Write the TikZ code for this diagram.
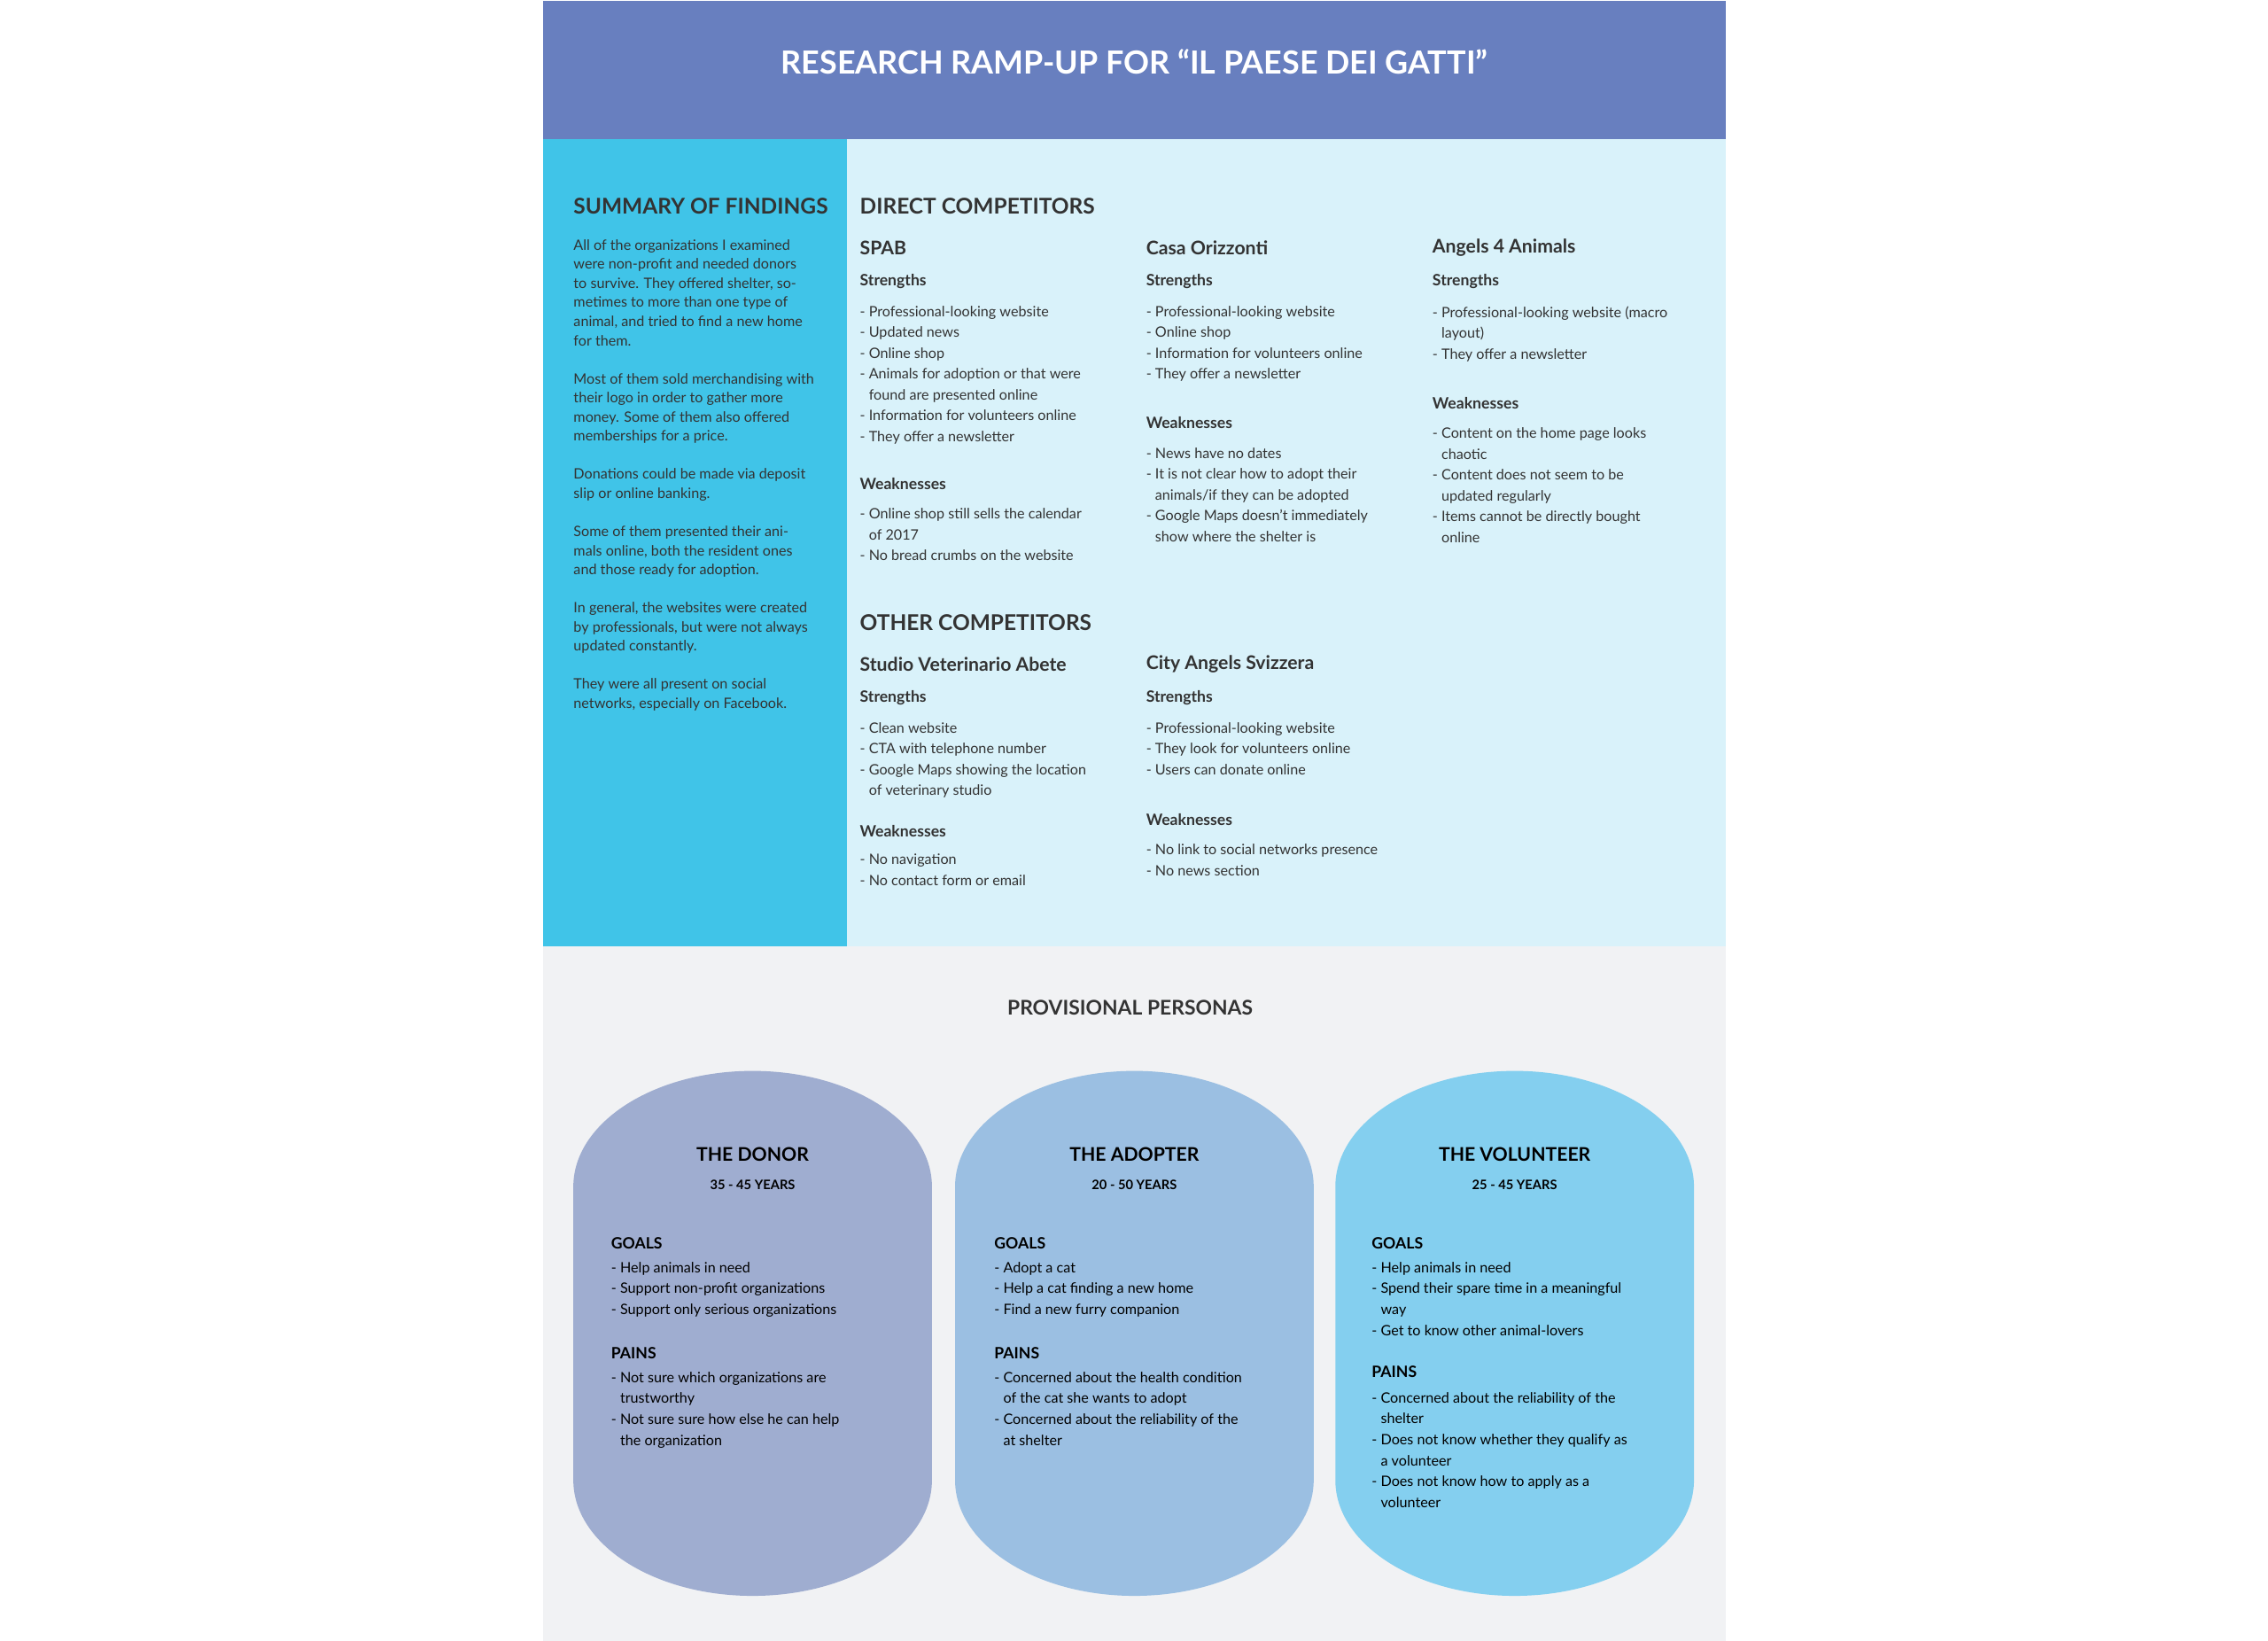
\documentclass[tikz,border=0pt]{standalone}
\usepackage{fontspec}
\setmainfont{Lato}
\definecolor{hdr}{RGB}{104,127,191}
\definecolor{sky}{RGB}{64,196,232}
\definecolor{pale}{RGB}{217,242,250}
\definecolor{grey}{RGB}{241,242,244}
\definecolor{donor}{RGB}{159,173,208}
\definecolor{adopt}{RGB}{155,191,226}
\definecolor{volun}{RGB}{132,207,239}
\definecolor{ink}{RGB}{51,51,51}
\newcommand{\ind}{\phantom{- }}
\begin{document}
\begin{tikzpicture}[x=1pt,y=-1pt]

  \node[anchor=center,inner sep=0] (X) at (0,0) {};

  % node styles
  \tikzstyle{Big}=[anchor=west,inner sep=0,text=ink,font=\fontsize{15}{17}\selectfont\bfseries]
  \tikzstyle{Name}=[anchor=west,inner sep=0,text=ink,font=\fontsize{13}{15}\selectfont\bfseries]
  \tikzstyle{Sub}=[anchor=west,inner sep=0,text=ink,font=\fontsize{10.8}{12}\selectfont\bfseries]
  \tikzstyle{List}=[anchor=north west,inner sep=0,text=ink,align=left,
  font=\fontsize{9.9}{14.4}\selectfont]
  \tikzstyle{Para}=[anchor=north west,inner sep=0,text=ink,align=left,
  font=\fontsize{9.9}{13.2}\selectfont]
  \tikzstyle{Persona}=[anchor=center,inner sep=0,text=black,font=\fontsize{13}{15}\selectfont\bfseries]
  \tikzstyle{Age}=[anchor=center,inner sep=0,text=black,font=\fontsize{9}{10}\selectfont\bfseries]
  \tikzstyle{Tag}=[anchor=west,inner sep=0,text=black,font=\fontsize{10.8}{12}\selectfont\bfseries]
  \tikzstyle{PList}=[anchor=north west,inner sep=0,text=black,align=left,
  font=\fontsize{9.9}{14.5}\selectfont]

  % panels
  \useasboundingbox (0,0) rectangle (1568,1134);
  \fill[white] (0,0) rectangle (1568,1134);
  \fill[hdr]  (375,0)   rectangle (1193,96);
  \fill[sky]  (375,96)  rectangle (585,654);
  \fill[pale] (585,96)  rectangle (1193,654);
  \fill[grey] (375,654) rectangle (1193,1134);

  \node[anchor=center,text=white,font=\fontsize{22}{24}\selectfont\bfseries] (T) at (784,42)
    {RESEARCH RAMP-UP FOR “IL PAESE DEI GATTI”};

  % summary
  \node[Big] (S) at (396,142) {SUMMARY OF FINDINGS};
  \node[Para] (S1) at (396,165) {All of the organizations I examined\\were non-profit and needed donors\\to survive. They offered shelter, so-\\metimes to more than one type of\\animal, and tried to find a new home\\for them.\\[13.2pt]
  Most of them sold merchandising with\\their logo in order to gather more\\money. Some of them also offered\\memberships for a price.\\[13.2pt]
  Donations could be made via deposit\\slip or online banking.\\[13.2pt]
  Some of them presented their ani-\\mals online, both the resident ones\\and those ready for adoption.\\[13.2pt]
  In general, the websites were created\\by professionals, but were not always\\updated constantly.\\[13.2pt]
  They were all present on social\\networks, especially on Facebook.};

  % direct competitors
  \node[Big] (D) at (594,142) {DIRECT COMPETITORS};

  \node[Name] (C1) at (594,171) {SPAB};
  \node[Sub] (C1s) at (594,194) {Strengths};
  \node[List] (C1a) at (594,211) {- Professional-looking website\\- Updated news\\- Online shop\\- Animals for adoption or that were\\\ind found are presented online\\- Information for volunteers online\\- They offer a newsletter};
  \node[Sub] (C1w) at (594,334) {Weaknesses};
  \node[List] (C1b) at (594,351) {- Online shop still sells the calendar\\\ind of 2017\\- No bread crumbs on the website};

  \node[Name] (C2) at (792,171) {Casa Orizzonti};
  \node[Sub] (C2s) at (792,194) {Strengths};
  \node[List] (C2a) at (792,211) {- Professional-looking website\\- Online shop\\- Information for volunteers online\\- They offer a newsletter};
  \node[Sub] (C2w) at (792,292) {Weaknesses};
  \node[List] (C2b) at (792,309) {- News have no dates\\- It is not clear how to adopt their\\\ind animals/if they can be adopted\\- Google Maps doesn’t immediately\\\ind show where the shelter is};

  \node[Name] (C3) at (990,171) {Angels 4 Animals};
  \node[Sub] (C3s) at (990,194) {Strengths};
  \node[List] (C3a) at (990,211) {- Professional-looking website (macro\\\ind layout)\\- They offer a newsletter};
  \node[Sub] (C3w) at (990,278) {Weaknesses};
  \node[List] (C3b) at (990,295) {- Content on the home page looks\\\ind chaotic\\- Content does not seem to be\\\ind updated regularly\\- Items cannot be directly bought\\\ind online};

  % other competitors
  \node[Big] (O) at (594,430) {OTHER COMPETITORS};

  \node[Name] (O1) at (594,459) {Studio Veterinario Abete};
  \node[Sub] (O1s) at (594,482) {Strengths};
  \node[List] (O1a) at (594,499) {- Clean website\\- CTA with telephone number\\- Google Maps showing the location\\\ind of veterinary studio};
  \node[Sub] (O1w) at (594,574) {Weaknesses};
  \node[List] (O1b) at (594,590) {- No navigation\\- No contact form or email};

  \node[Name] (O2) at (792,459) {City Angels Svizzera};
  \node[Sub] (O2s) at (792,482) {Strengths};
  \node[List] (O2a) at (792,499) {- Professional-looking website\\- They look for volunteers online\\- Users can donate online};
  \node[Sub] (O2w) at (792,566) {Weaknesses};
  \node[List] (O2b) at (792,583) {- No link to social networks presence\\- No news section};

  % personas
  \node[anchor=center,inner sep=0,text=ink,font=\fontsize{14}{16}\selectfont\bfseries] (P) at (781,696) {PROVISIONAL PERSONAS};

  \foreach \x/\c in {396/donor,660/adopt,923/volun}
    \fill[\c] (\x,820) arc[start angle=180,end angle=360,x radius=124,y radius=80]
      -- (\x+248,1023) arc[start angle=0,end angle=180,x radius=124,y radius=80] -- cycle;

  \node[Persona] (P1) at (520,798) {THE DONOR};
  \node[Age] (P1y) at (520,819) {35 - 45 YEARS};
  \node[Tag] (P1g) at (422,859) {GOALS};
  \node[PList] (P1a) at (422,872) {- Help animals in need\\- Support non-profit organizations\\- Support only serious organizations};
  \node[Tag] (P1p) at (422,935) {PAINS};
  \node[PList] (P1b) at (422,948) {- Not sure which organizations are\\\ind trustworthy\\- Not sure sure how else he can help\\\ind the organization};

  \node[Persona] (P2) at (784,798) {THE ADOPTER};
  \node[Age] (P2y) at (784,819) {20 - 50 YEARS};
  \node[Tag] (P2g) at (687,859) {GOALS};
  \node[PList] (P2a) at (687,872) {- Adopt a cat\\- Help a cat finding a new home\\- Find a new furry companion};
  \node[Tag] (P2p) at (687,935) {PAINS};
  \node[PList] (P2b) at (687,948) {- Concerned about the health condition\\\ind of the cat she wants to adopt\\- Concerned about the reliability of the\\\ind at shelter};

  \node[Persona] (P3) at (1047,798) {THE VOLUNTEER};
  \node[Age] (P3y) at (1047,819) {25 - 45 YEARS};
  \node[Tag] (P3g) at (948,859) {GOALS};
  \node[PList] (P3a) at (948,872) {- Help animals in need\\- Spend their spare time in a meaningful\\\ind way\\- Get to know other animal-lovers};
  \node[Tag] (P3p) at (948,948) {PAINS};
  \node[PList] (P3b) at (948,962) {- Concerned about the reliability of the\\\ind shelter\\- Does not know whether they qualify as\\\ind a volunteer\\- Does not know how to apply as a\\\ind volunteer};

\end{tikzpicture}
\end{document}
